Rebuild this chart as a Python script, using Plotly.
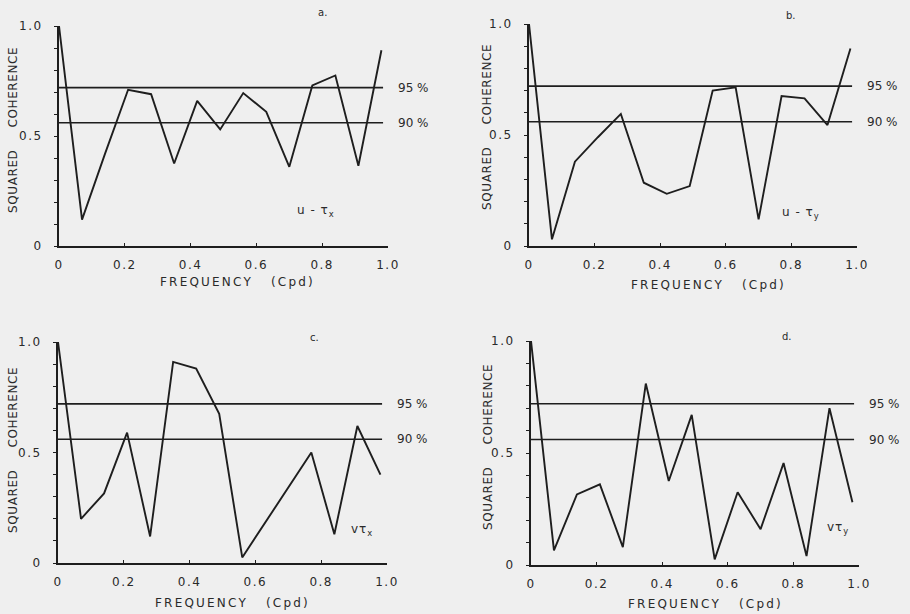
import plotly.graph_objects as go

W, H = 910, 614

# ---------------- data ----------------
freq = [0.0, 0.07, 0.14, 0.21, 0.28, 0.35, 0.42, 0.49, 0.56, 0.63, 0.70, 0.77, 0.84, 0.91, 0.98]
freq_c = [0.0, 0.07, 0.14, 0.21, 0.28, 0.35, 0.42, 0.49, 0.56, 0.77, 0.84, 0.91, 0.98]

coh_u_tx = [1.0, 0.12, 0.42, 0.71, 0.69, 0.375, 0.66, 0.53, 0.695, 0.61, 0.36, 0.73, 0.775, 0.365, 0.89]
coh_u_ty = [1.0, 0.03, 0.38, 0.49, 0.595, 0.285, 0.235, 0.27, 0.70, 0.715, 0.12, 0.675, 0.665, 0.545, 0.89]
coh_v_tx = [1.0, 0.20, 0.315, 0.59, 0.12, 0.91, 0.88, 0.675, 0.025, 0.50, 0.13, 0.62, 0.40]
coh_v_ty = [1.0, 0.065, 0.315, 0.36, 0.08, 0.81, 0.375, 0.67, 0.025, 0.325, 0.16, 0.455, 0.04, 0.70, 0.28]

conf_levels = ["95 %", "90 %"]
conf_values = [0.72, 0.56]
conf_x = [0.0, 0.985]

x_tickvals = [0, 0.2, 0.4, 0.6, 0.8, 1.0]
x_ticktext = ["0", "0.2", "0.4", "0.6", "0.8", "1.0"]
y_tickvals = [0, 0.5, 1.0]
y_ticktext = ["0", "0.5", "1.0"]

panel_letters = ["a.", "b.", "c.", "d."]
panel_labels = ["u - τ<sub>x</sub>", "u - τ<sub>y</sub>", "vτ<sub>x</sub>", "vτ<sub>y</sub>"]
x_title = "FREQUENCY   (Cpd)"
y_title = "SQUARED     COHERENCE"

# ---------------- layout geometry (pixels) ----------------
panels = [
    dict(x=freq, y=coh_u_tx, px=(59, 388), py=(26, 246),
         letter=(0.80, 1.06), lab=(0.78, 0.16), ytitle=(13, 130), xtitle=(237, 282)),
    dict(x=freq, y=coh_u_ty, px=(529, 857), py=(24, 246),
         letter=(0.80, 1.04), lab=(0.83, 0.15), ytitle=(487, 127), xtitle=(708, 285)),
    dict(x=freq_c, y=coh_v_tx, px=(58, 387), py=(342, 563),
         letter=(0.78, 1.02), lab=(0.925, 0.15), ytitle=(13, 450), xtitle=(233, 603)),
    dict(x=freq, y=coh_v_ty, px=(531, 859), py=(341, 565),
         letter=(0.78, 1.02), lab=(0.935, 0.165), ytitle=(488, 447), xtitle=(705, 604)),
]

FONT = "DejaVu Sans"
INK = "#1e1e1e"
TXT = "#2a2a2a"


def spaced(s, px):
    return '<span style="letter-spacing:%spx">%s</span>' % (px, s)


fig = go.Figure()
layout = dict(
    width=W, height=H,
    margin=dict(l=0, r=0, t=0, b=0, pad=0, autoexpand=False),
    paper_bgcolor="#efefef", plot_bgcolor="#efefef",
    showlegend=False,
    font=dict(family=FONT, color=TXT, size=12),
)
annotations = []

for i, p in enumerate(panels):
    n = "" if i == 0 else str(i + 1)
    xa, ya = "x" + n, "y" + n
    xdom = [p["px"][0] / W, p["px"][1] / W]
    ydom = [1 - p["py"][1] / H, 1 - p["py"][0] / H]

    layout["xaxis" + n] = dict(
        domain=xdom, range=[0, 1.0], anchor=ya, automargin=False,
        showgrid=False, zeroline=False, showline=True, linecolor=INK, linewidth=2,
        tickvals=x_tickvals, ticktext=[spaced(t, 1.5) for t in x_ticktext],
        ticks="inside", ticklen=3,
        tickcolor=INK, tickfont=dict(size=12, color=TXT), ticklabelstandoff=7,
    )
    layout["yaxis" + n] = dict(
        domain=ydom, range=[0, 1.0], anchor=xa, automargin=False,
        showgrid=False, zeroline=False, showline=True, linecolor=INK, linewidth=2,
        tickvals=y_tickvals, ticktext=[spaced(t, 1.5) for t in y_ticktext],
        ticks="outside", ticklen=3,
        tickcolor=INK, tickfont=dict(size=12, color=TXT), ticklabelstandoff=9,
        minor=dict(dtick=0.1, ticks="outside", ticklen=3, tickcolor=INK),
    )

    # confidence levels
    for lvl, val in zip(conf_levels, conf_values):
        fig.add_trace(go.Scatter(x=conf_x, y=[val, val], mode="lines",
                                 line=dict(color=INK, width=1.6),
                                 xaxis=xa, yaxis=ya, hoverinfo="skip"))
        annotations.append(dict(x=1.025, y=val, xref=xa + " domain", yref=ya + " domain",
                                text=lvl, showarrow=False, xanchor="left", yanchor="middle",
                                font=dict(size=12, color=TXT)))

    # coherence
    fig.add_trace(go.Scatter(x=p["x"], y=p["y"], mode="lines",
                             line=dict(color=INK, width=1.9),
                             xaxis=xa, yaxis=ya, cliponaxis=False))

    annotations.append(dict(x=p["letter"][0], y=p["letter"][1],
                            xref=xa + " domain", yref=ya + " domain",
                            text=panel_letters[i], showarrow=False,
                            xanchor="center", yanchor="middle",
                            font=dict(size=10, color=TXT)))
    annotations.append(dict(x=p["lab"][0], y=p["lab"][1],
                            xref=xa + " domain", yref=ya + " domain",
                            text=spaced(panel_labels[i], 1), showarrow=False,
                            xanchor="center", yanchor="middle",
                            font=dict(size=12, color=TXT)))
    annotations.append(dict(x=p["ytitle"][0] / W, y=1 - p["ytitle"][1] / H,
                            xref="paper", yref="paper", textangle=-90,
                            xanchor="center", yanchor="middle",
                            text=spaced(y_title, 0.6), showarrow=False,
                            font=dict(size=12, color=TXT)))
    annotations.append(dict(x=p["xtitle"][0] / W, y=1 - p["xtitle"][1] / H,
                            xref="paper", yref="paper",
                            xanchor="center", yanchor="middle",
                            text=spaced(x_title, 2.2), showarrow=False,
                            font=dict(size=12, color=TXT)))

layout["annotations"] = annotations
fig.update_layout(**layout)
fig.write_html("out.html", config={"displayModeBar": False},
               post_script="document.body.style.margin='0';")
